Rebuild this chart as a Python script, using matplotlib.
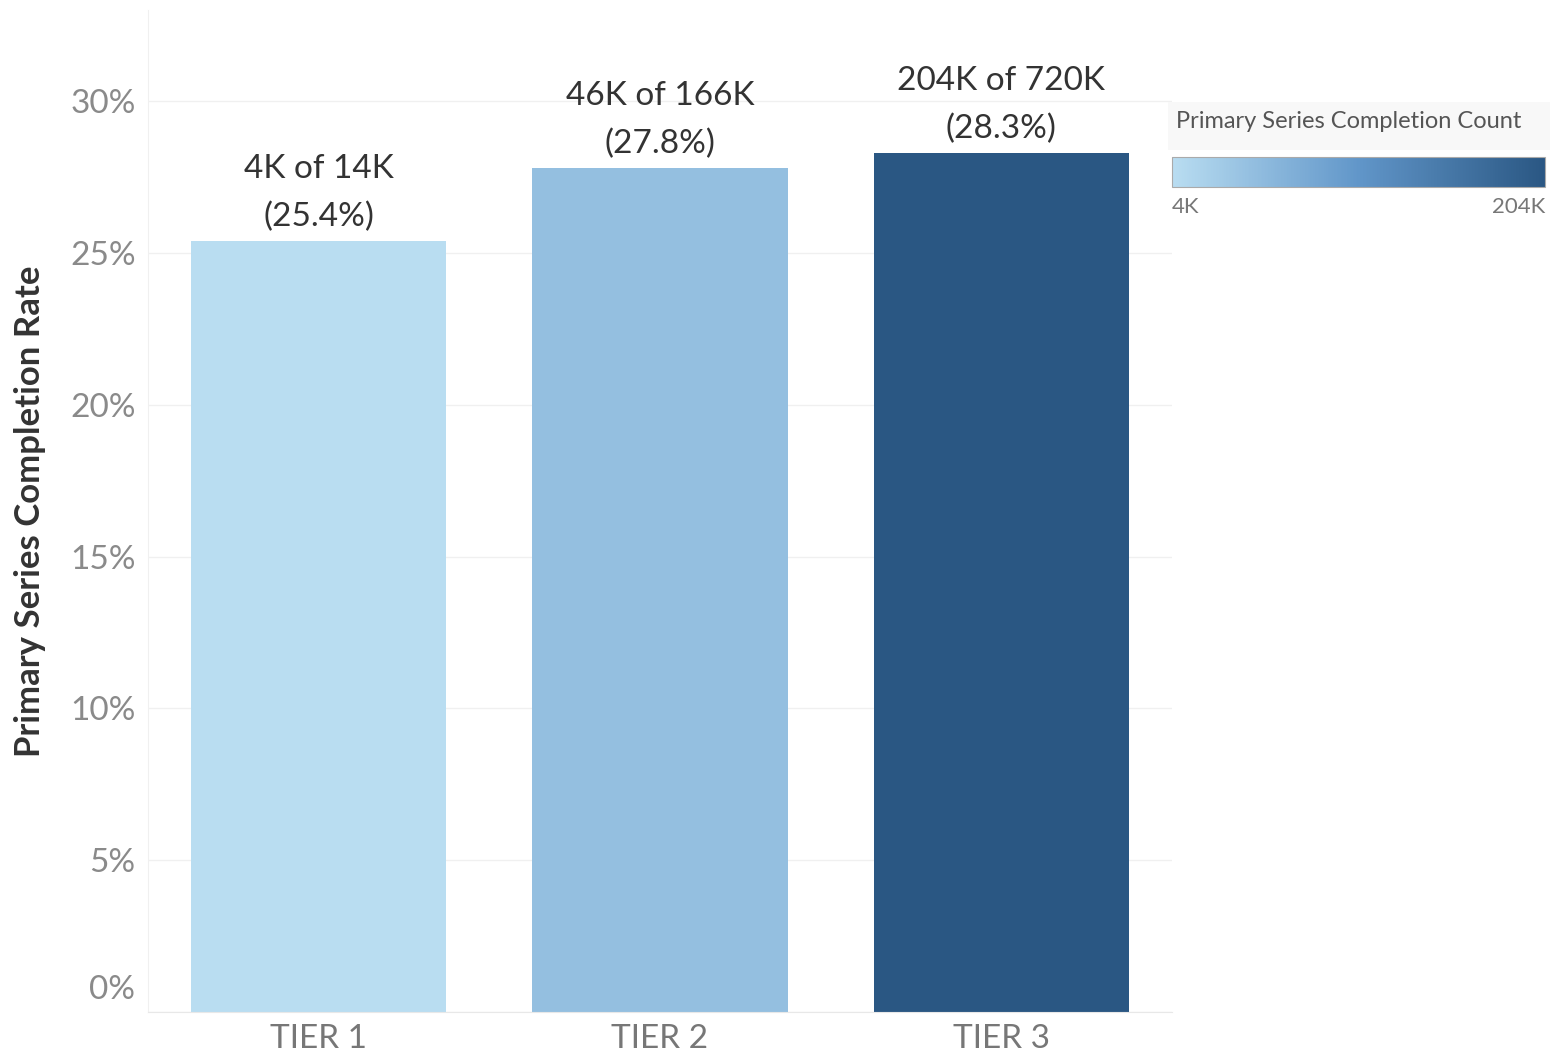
import matplotlib
matplotlib.use("Agg")
import matplotlib.pyplot as plt
from matplotlib.colors import LinearSegmentedColormap, Normalize
from matplotlib.cm import ScalarMappable
from matplotlib.patches import Rectangle
from matplotlib.transforms import ScaledTranslation

# data
tiers = ["TIER 1", "TIER 2", "TIER 3"]
rates = [25.4, 27.8, 28.3]          # completion rate, %
completed_k = [4, 46, 204]          # completion count, thousands
total_k = [14, 166, 720]            # population, thousands
y_ticks = [0, 5, 10, 15, 20, 25, 30]

plt.rcParams['font.family'] = ['Lato', 'DejaVu Sans']

W, H = 1550, 1060
fig = plt.figure(figsize=(W / 100, H / 100), dpi=100)
ax = fig.add_axes([148 / W, 1 - 1012 / H, (1172 - 148) / W, (1012 - 10) / H])

cmap = LinearSegmentedColormap.from_list("tab_blue", ["#b9ddf1", "#6196c9", "#2a5783"])
norm = Normalize(vmin=min(completed_k), vmax=max(completed_k))
colors = [cmap(norm(c)) for c in completed_k]

x = list(range(len(tiers)))
ax.bar(x, rates, width=0.748, color=colors, zorder=2)

for xi, r, c, t in zip(x, rates, completed_k, total_k):
    ax.annotate(f"{c}K of {t}K\n({r}%)", (xi, r), xytext=(0, 6), textcoords="offset points",
                ha="center", va="bottom", fontsize=24, color="#333333", linespacing=1.72)

ax.set_xlim(-0.5, 2.5)
ax.set_ylim(0, 33)
ax.set_xticks(x)
ax.set_xticklabels(tiers, fontsize=24, color="#777777")
ax.set_yticks(y_ticks)
ax.set_yticklabels([f"{v}%" for v in y_ticks], fontsize=24, color="#8a8a8a")
ax.tick_params(length=0)
ax.tick_params(axis="y", pad=9)
ax.tick_params(axis="x", pad=9)
# bottom label sits above the baseline, as in the original
zero_lbl = ax.get_yticklabels()[0]
zero_lbl.set_transform(zero_lbl.get_transform() + ScaledTranslation(0, 18 / 72, fig.dpi_scale_trans))
ax.grid(axis="y", color="#f0f0f0", linewidth=1, zorder=0)
for s in ["top", "right"]:
    ax.spines[s].set_visible(False)
ax.spines["left"].set_color("#f0f0f0")
ax.spines["bottom"].set_color("#e8e8e8")
ax.set_ylabel("Primary Series Completion Rate", fontsize=25, fontweight="bold", color="#333333")
ax.yaxis.set_label_coords((46 - 148) / 1024, 0.5)

# colour legend
fig.patches.append(Rectangle((1168 / W, 1 - 150 / H), (W - 1168) / W, 48 / H,
                             transform=fig.transFigure, facecolor="#f8f8f8",
                             edgecolor="none", zorder=0))
fig.text(1176 / W, 1 - 122 / H, "Primary Series Completion Count", fontsize=17,
         color="#555555", va="center", ha="left")
cax = fig.add_axes([1172 / W, 1 - 187 / H, (1545 - 1172) / W, 30 / H])
cb = fig.colorbar(ScalarMappable(norm=norm, cmap=cmap), cax=cax, orientation="horizontal")
cb.set_ticks([])
cb.outline.set_edgecolor("#aaaaaa")
fig.text(1172 / W, 1 - 207 / H, f"{min(completed_k)}K", fontsize=16, color="#777777",
         va="center", ha="left")
fig.text(1545 / W, 1 - 207 / H, f"{max(completed_k)}K", fontsize=16, color="#777777",
         va="center", ha="right")

fig.savefig("out.png", dpi=100)
